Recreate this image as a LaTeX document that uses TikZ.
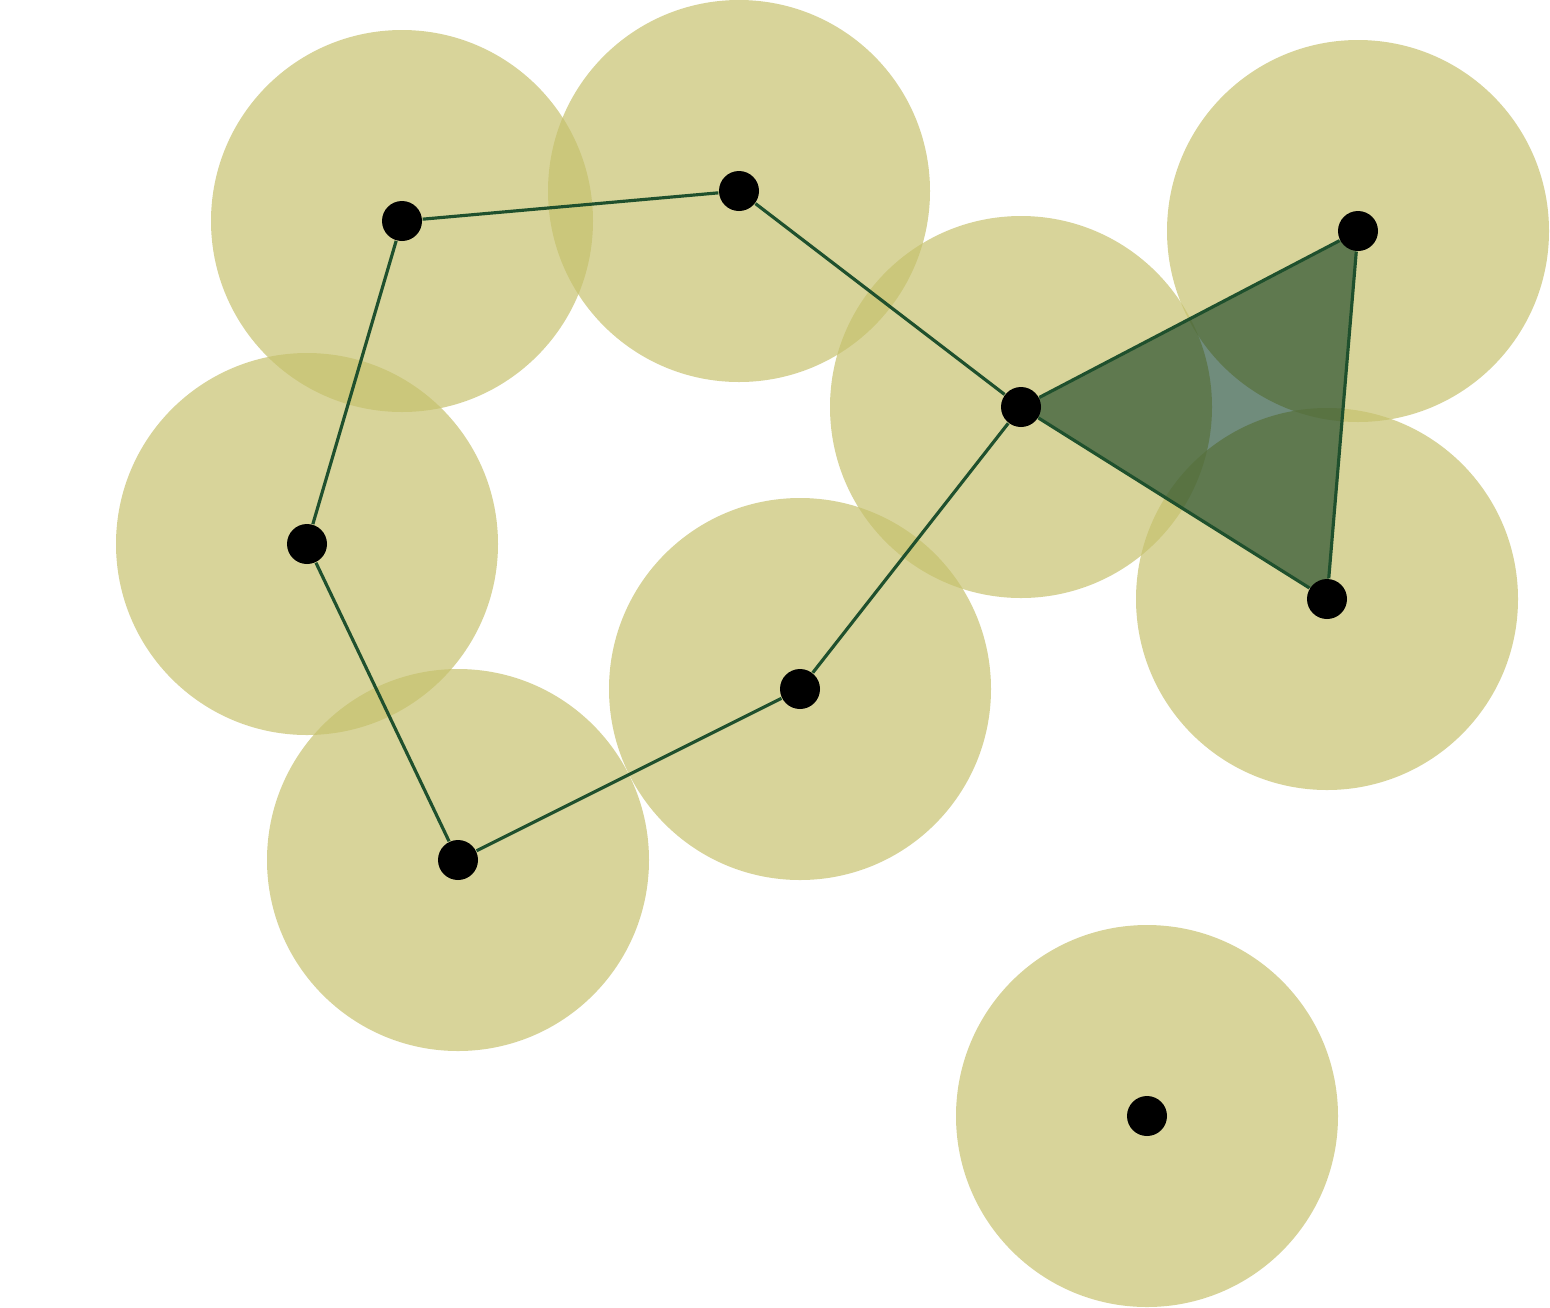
\documentclass[tikz,border=0pt]{standalone}
\usetikzlibrary{positioning}

\definecolor{diskcol}{RGB}{198,193,109}
\definecolor{edgecol}{RGB}{31,80,45}
\definecolor{facecol}{RGB}{0,50,21}

\pgfdeclarelayer{background}
\pgfsetlayers{background,main}

\begin{document}
\begin{tikzpicture}[
point/.style={
circle,
fill=black,
inner sep=0pt,
minimum size=0.4cm
},
disk/.style={
fill=diskcol,
fill opacity=0.69
},
edge/.style={
draw=edgecol,
line width=0.9pt
},
face/.style={
fill=facecol,
fill opacity=0.56
}
]

\useasboundingbox (0,0) rectangle (15.5,-13.07);


% points
\node[point] (v1) at (4.02,-2.21) {};
\node[point] (v2) at (7.39,-1.91) {};
\node[point] (v3) at (3.07,-5.44) {};
\node[point] (v4) at (10.21,-4.07) {};
\node[point] (v5) at (13.58,-2.31) {};
\node[point] (v6) at (13.27,-5.99) {};
\node[point] (v7) at (8.00,-6.89) {};
\node[point] (v8) at (4.58,-8.60) {};
\node[point] (v9) at (11.47,-11.16) {};


% balls
\begin{pgfonlayer}{background}
\foreach \v in {v1,v2,v3,v4,v5,v6,v7,v8,v9}
  \fill[disk] (\v.center) circle (1.91);

% triangle
\fill[face] (v4.center)--(v5.center)--(v6.center)--cycle;
\end{pgfonlayer}


% edges
\draw[edge] (v1)--(v2);
\draw[edge] (v2)--(v4);
\draw[edge] (v1)--(v3);
\draw[edge] (v3)--(v8);
\draw[edge] (v8)--(v7);
\draw[edge] (v7)--(v4);
\draw[edge] (v4)--(v5);
\draw[edge] (v5)--(v6);
\draw[edge] (v4)--(v6);

\end{tikzpicture}
\end{document}
